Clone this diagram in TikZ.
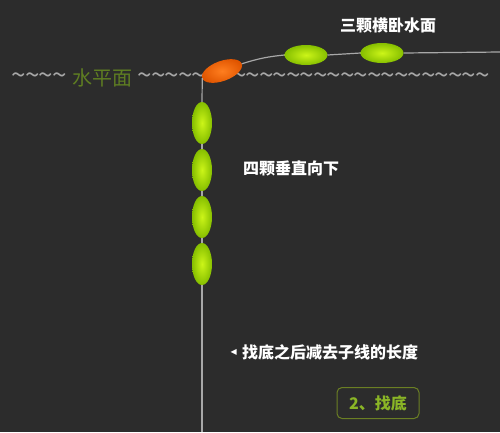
\documentclass[tikz,border=0pt]{standalone}
\usepackage{fontspec}
\setmainfont{Noto Sans CJK SC}
\newfontfamily\symfont{DejaVu Sans}
\usetikzlibrary{positioning,shapes.geometric}

\definecolor{bgcol}{HTML}{2C2C2C}
\definecolor{linecol}{HTML}{A8A8A8}
\definecolor{floatlight}{HTML}{CCF518}
\definecolor{floatdark}{HTML}{86BF00}
\definecolor{orangelight}{HTML}{FF7E1F}
\definecolor{orangedark}{HTML}{E05500}
\definecolor{olive}{HTML}{5E7D22}
\definecolor{olivetext}{HTML}{8AB526}
\definecolor{olivebox}{HTML}{6B7F24}

\tikzset{
  bobber/.style={ellipse, inner sep=0pt, outer sep=0pt,
    inner color=floatlight, outer color=floatdark},
  vbobber/.style={bobber, minimum width=20pt, minimum height=42pt},
  hbobber/.style={bobber, minimum width=43pt, minimum height=20pt},
  tip/.style={bobber, inner color=orangelight, outer color=orangedark,
    minimum width=42pt, minimum height=20pt},
  label/.style={text=white, font=\bfseries\fontsize{16}{16}\selectfont},
  wave/.style={text=linecol, inner sep=0pt, font=\fontsize{26}{26}\selectfont},
  line/.style={draw=linecol, line width=1.2pt}
}

\begin{document}
\begin{tikzpicture}[x=1pt,y=-1pt]

  \fill[bgcol] (0,0) rectangle (500,432);
  \useasboundingbox (0,0) rectangle (500,432);

  % water surface
  \foreach \i in {0,...,3}
    \node[wave] (wl\i) at (18.75+13.5*\i,78.5) {\textasciitilde};
  \node (water) [text=olive, font=\fontsize{20}{20}\selectfont, inner sep=0pt] at (102,78) {水平面};
  \foreach \i in {0,...,25}
    \node[wave] (wr\i) at (144.75+13.5*\i,78.5) {\textasciitilde};

  % floats
  \node (tip) [tip, rotate=20] at (222,71) {};
  \node (h1) [hbobber] at (306,55) {};
  \node (h2) [hbobber] at (382,53) {};

  \node (v1) [vbobber] at (202,123) {};
  \node (v2) [vbobber, below=5pt of v1] {};
  \node (v3) [vbobber, below=5pt of v2] {};
  \node (v4) [vbobber, below=5pt of v3] {};

  \coordinate (bottom) at (202,432);
  \coordinate (tail) at (500,52);

  % line
  \draw[line] (tip.west) -- (v1.north);
  \draw[line] (v1.south) -- (v2.north);
  \draw[line] (v2.south) -- (v3.north);
  \draw[line] (v3.south) -- (v4.north);
  \draw[line] (v4.south) -- (bottom);
  \draw[line] (tip.east) to[bend left=6] (h1.west);
  \draw[line] (h1.east) -- (h2.west);
  \draw[line] (h2.east) -- (tail);

  % texts
  \node (lying) [label] at (388,25) {三颗横卧水面};
  \node (down) [label] at (291,168) {四颗垂直向下};
  \node (note) [label, anchor=west, inner sep=0pt] at (242,352) {找底之后减去子线的长度};
  \node (arrow) [text=white, inner sep=0pt, font=\symfont\fontsize{8}{8}\selectfont, left=5pt of note] {◀};

  \node (step) [draw=olivebox, line width=1pt, rounded corners=5pt, text=olivetext,
    font=\bfseries\fontsize{16}{16}\selectfont, minimum width=82pt, minimum height=31pt,
    inner sep=0pt] at (378,403) {2、找底};

\end{tikzpicture}
\end{document}
